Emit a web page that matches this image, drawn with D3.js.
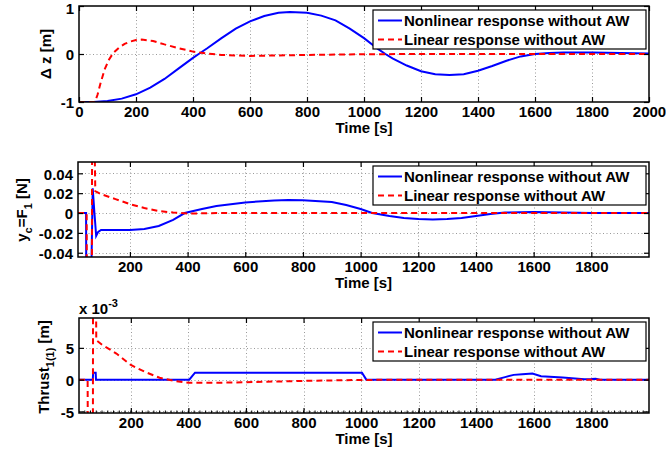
<!DOCTYPE html>
<html><head><meta charset="utf-8">
<script src="https://cdn.jsdelivr.net/npm/d3@7"></script>
<style>
body{margin:0;background:#fff;}
svg text{font-family:"Liberation Sans",Arial,Helvetica,sans-serif;font-weight:bold;}
</style></head>
<body><svg id="c" width="666" height="452"></svg>
<script>
// ---------- data ----------
const legendLabels = ["Nonlinear response without AW", "Linear response without AW"];
const xLabel = "Time [s]";

// Panel 1: Δz [m]
const p1Ticks = [-1, 0, 1];
const p1XTicks = [0,200,400,600,800,1000,1200,1400,1600,1800,2000];
const p1Nonlinear = [[0,-1],[50,-1],[100,-0.98],[150,-0.93],[200,-0.84],[250,-0.7],[300,-0.52],[350,-0.3],[400,-0.08],[420,0],[450,0.12],[500,0.33],[550,0.53],[600,0.68],[650,0.79],[700,0.86],[740,0.875],[800,0.86],[850,0.8],[900,0.7],[950,0.53],[1000,0.33],[1050,0.1],[1075,0],[1100,-0.09],[1150,-0.24],[1200,-0.36],[1250,-0.42],[1300,-0.44],[1350,-0.42],[1400,-0.35],[1450,-0.25],[1500,-0.14],[1550,-0.05],[1600,0],[1650,0.02],[1700,0.03],[1800,0.03],[1900,0.02],[2000,0.01]];
const p1Linear = [[0,-1],[56,-1],[65,-0.85],[75,-0.62],[90,-0.32],[105,-0.12],[120,0.02],[140,0.13],[160,0.21],[180,0.26],[200,0.29],[220,0.3],[260,0.27],[300,0.2],[350,0.12],[400,0.05],[450,0.01],[500,-0.02],[600,-0.04],[700,-0.03],[800,-0.02],[1000,-0.005],[1200,0],[2000,0]];

// Panel 2: y_c = F_1 [N]
const p2Ticks = [-0.04,-0.02,0,0.02,0.04];
const p2XTicks = [200,400,600,800,1000,1200,1400,1600,1800];
const p2Nonlinear = [[20,0],[48,0],[49,-0.1],[64,-0.1],[71,0.025],[77,0],[83,-0.023],[90,-0.019],[100,-0.017],[200,-0.017],[250,-0.016],[300,-0.013],[350,-0.007],[390,0],[450,0.004],[500,0.007],[600,0.0107],[700,0.0125],[750,0.013],[800,0.0128],[900,0.011],[950,0.008],[1000,0.004],[1040,0],[1100,-0.003],[1150,-0.005],[1200,-0.006],[1250,-0.0065],[1300,-0.006],[1350,-0.005],[1400,-0.003],[1450,-0.001],[1500,0.0005],[1600,0.001],[1700,0.0005],[1800,0],[2000,0]];
const p2Linear = [[20,0],[50,0],[51,-0.1],[68,-0.1],[69,0.1],[76,0.1],[80,0.022],[100,0.019],[150,0.014],[200,0.009],[250,0.005],[300,0.002],[350,0.0005],[400,-0.0005],[450,-0.0003],[500,0],[2000,0]];

// Panel 3: Thrust_1(1) [m] (x 10^-3)
const p3Ticks = [-5, 0, 5];
const p3XTicks = [200,400,600,800,1000,1200,1400,1600,1800];
const p3Nonlinear = [[20,0],[68,0],[69,1.1],[78,1.1],[79,0],[403,0],[423,1.1],[1003,1.1],[1018,0],[1466,0],[1500,0.4],[1530,0.75],[1560,0.85],[1595,0.95],[1625,0.55],[1700,0.35],[1775,0.05],[1800,0.1],[1815,0.15],[1830,0],[2000,0]];
const p3Linear = [[20,0],[50,0],[52,-30],[68,-30],[69,30],[77,30],[80,6.2],[100,5.5],[150,4.1],[200,2.3],[250,1.2],[300,0.3],[350,-0.2],[400,-0.5],[500,-0.5],[600,-0.4],[800,-0.2],[1000,-0.05],[1200,0],[2000,0]];

// ---------- drawing ----------
const svg = d3.select("#c");
const BLUE = "#0000ff", RED = "#ff0000";
const FS = 15;

function panel(cfg){
  const {id, left, right, top, bottom, xDomain, yDomain, yTicks, xTicks, nonlinear, linear, minor} = cfg;
  const x = d3.scaleLinear().domain(xDomain).range([left, right]);
  const y = d3.scaleLinear().domain(yDomain).range([bottom, top]);
  const g = svg.append("g");
  g.append("clipPath").attr("id", "clip"+id).append("rect")
    .attr("x", left).attr("y", top).attr("width", right-left).attr("height", bottom-top);

  // grid
  const grid = g.append("g").attr("stroke", "#9a9a9a").attr("stroke-width", 1).attr("stroke-dasharray", "1,2.5");
  xTicks.filter(t => t > xDomain[0] && t < xDomain[1]).forEach(t => {
    grid.append("line").attr("x1", Math.round(x(t))+0.5).attr("x2", Math.round(x(t))+0.5).attr("y1", top).attr("y2", bottom);
  });
  yTicks.filter(t => t > yDomain[0] && t < yDomain[1]).forEach(t => {
    grid.append("line").attr("y1", Math.round(y(t))+0.5).attr("y2", Math.round(y(t))+0.5).attr("x1", left).attr("x2", right);
  });

  // lines
  const line = d3.line().x(d => x(d[0])).y(d => y(d[1]));
  const lg = g.append("g").attr("clip-path", "url(#clip"+id+")").attr("fill", "none");
  lg.append("path").datum(nonlinear).attr("d", line).attr("stroke", BLUE).attr("stroke-width", 2);
  lg.append("path").datum(linear).attr("d", line).attr("stroke", RED).attr("stroke-width", 2).attr("stroke-dasharray", "6,4");

  // axes (inward ticks, mirrored)
  const ax = g.append("g");
  const xb = d3.axisBottom(x).tickValues(xTicks).tickSizeInner(-5).tickSizeOuter(0).tickPadding(4).tickFormat(d3.format("d"));
  const xt = d3.axisTop(x).tickValues(xTicks).tickSizeInner(-5).tickSizeOuter(0).tickFormat("");
  const yl = d3.axisLeft(y).tickValues(yTicks).tickSizeInner(-5).tickSizeOuter(0).tickPadding(5).tickFormat(cfg.yFormat);
  const yr = d3.axisRight(y).tickValues(yTicks).tickSizeInner(-5).tickSizeOuter(0).tickFormat("");
  [ [xb, `translate(0,${bottom})`, "x"], [xt, `translate(0,${top})`, ""], [yl, `translate(${left},0)`, "y"], [yr, `translate(${right},0)`, ""] ].forEach(([a, tr, k]) => {
    const s = ax.append("g").attr("transform", tr).call(a).attr("font-size", FS);
    s.select(".domain").remove();
    s.selectAll("line").attr("stroke", "#000").attr("stroke-width", 1.2);
    s.selectAll("text").attr("fill", "#000");
    if (k === "y") s.selectAll("text").attr("y", d => (y(d) - top < 6 ? 2.5 : 1));
  });
  if (minor) {
    const mt = d3.range(xDomain[0] - xDomain[0] % minor + minor, xDomain[1], minor);
    const mg = ax.append("g").attr("stroke", "#000").attr("stroke-width", 1);
    mt.forEach(t => {
      mg.append("line").attr("x1", x(t)).attr("x2", x(t)).attr("y1", bottom).attr("y2", bottom-2.5);
    });
  }
  g.append("rect").attr("x", left).attr("y", top).attr("width", right-left).attr("height", bottom-top)
    .attr("fill", "none").attr("stroke", "#000").attr("stroke-width", 1.5);

  // x label
  g.append("text").attr("x", (left+right)/2).attr("y", bottom + cfg.xLabelDy).attr("text-anchor", "middle")
    .attr("font-size", FS).text(xLabel);

  // legend
  const L = cfg.legend;
  const lgd = g.append("g");
  lgd.append("rect").attr("x", L.x).attr("y", L.y).attr("width", L.w).attr("height", L.h)
    .attr("fill", "#fff").attr("stroke", "#000").attr("stroke-width", 1.2);
  [[BLUE, null], [RED, "6,4"]].forEach((s, i) => {
    const cy = L.y + 10.5 + i * 19;
    lgd.append("line").attr("x1", L.x + 5).attr("x2", L.x + 29).attr("y1", cy).attr("y2", cy)
      .attr("stroke", s[0]).attr("stroke-width", 2).attr("stroke-dasharray", s[1]);
    lgd.append("text").attr("x", L.x + 31).attr("y", cy + 5.5).attr("font-size", FS).text(legendLabels[i]);
  });
  return {x, y, g};
}

const yfmt = d => d < 0 ? "-" + Math.abs(d) : String(d);

panel({id:1, left:79, right:649, top:6, bottom:102, xDomain:[0,2000], yDomain:[-1,1],
  yTicks:p1Ticks, xTicks:p1XTicks, nonlinear:p1Nonlinear, linear:p1Linear, yFormat:yfmt,
  xLabelDy:31, legend:{x:373, y:10, w:273, h:39}});

panel({id:2, left:78, right:649, top:162, bottom:257, xDomain:[20,2000], yDomain:[-0.0443,0.0514],
  yTicks:p2Ticks, xTicks:p2XTicks, nonlinear:p2Nonlinear, linear:p2Linear, yFormat:yfmt,
  xLabelDy:31, legend:{x:373, y:166, w:273, h:39}});

panel({id:3, left:79, right:649, top:318, bottom:413, xDomain:[20,2000], yDomain:[-5.25,9.7],
  yTicks:p3Ticks, xTicks:p3XTicks, nonlinear:p3Nonlinear, linear:p3Linear, yFormat:yfmt, minor:20,
  xLabelDy:31, legend:{x:373, y:322, w:273, h:39}});

// y labels
function ylab(cx, cy, parts){
  const t = svg.append("text").attr("transform", `translate(${cx},${cy}) rotate(-90)`)
    .attr("text-anchor", "middle").attr("font-size", FS);
  parts.forEach(p => {
    const ts = t.append("tspan").text(p[0]);
    if (p[1] === "sub") ts.attr("font-size", 11).attr("dy", 5);
    if (p[1] === "back") ts.attr("dy", -5);
  });
}
ylab(51, 54, [["Δ z [m]"]]);
ylab(27, 210, [["y"], ["c","sub"], ["=F","back"], ["1","sub"], [" [N]","back"]]);
ylab(49, 367, [["Thrust"], ["1(1)","sub"], [" [m]","back"]]);

// exponent label
const ex = svg.append("text").attr("x", 79).attr("y", 314).attr("font-size", FS);
ex.append("tspan").text("x 10");
ex.append("tspan").text("-3").attr("font-size", 11).attr("dy", -7);
</script></body></html>
